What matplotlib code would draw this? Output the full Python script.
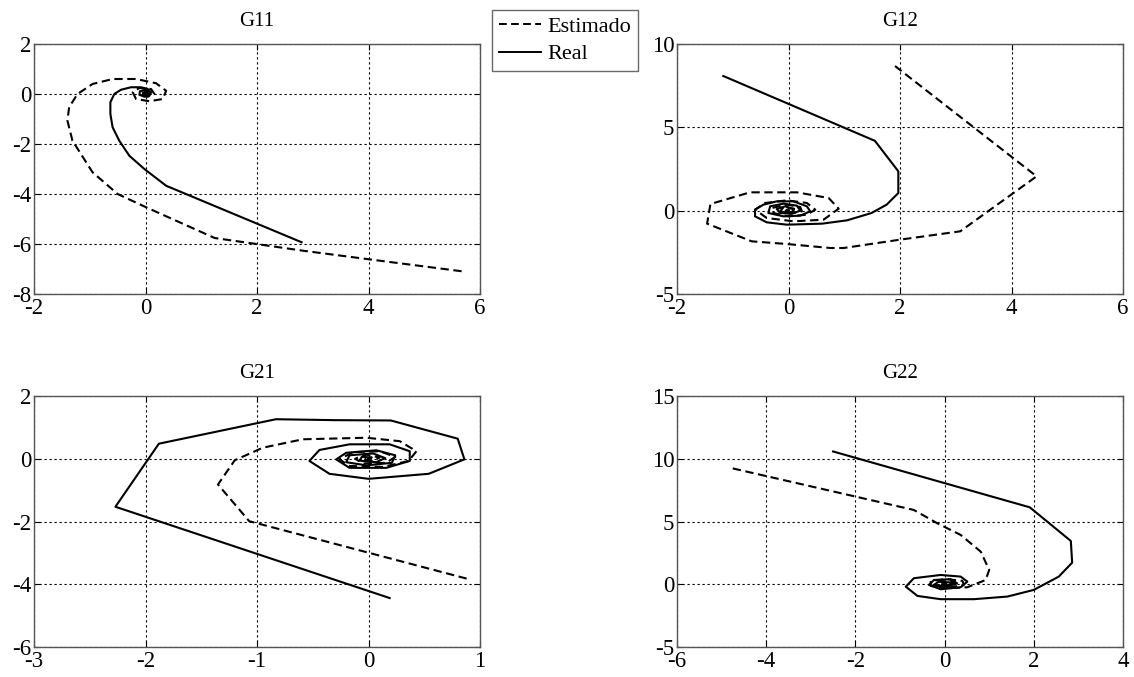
import numpy as np
import matplotlib
matplotlib.use("Agg")
import matplotlib.pyplot as plt
from matplotlib.lines import Line2D

# Nyquist curves (real part, imaginary part)
g11_real_x = [2.80, 0.37, -0.02, -0.29, -0.47, -0.59, -0.63, -0.63, -0.56, -0.44, -0.26, -0.08,
              0.04, 0.10, 0.07, -0.02, -0.11, -0.10, -0.02, 0.06, 0.05, -0.02, -0.05, 0.00, 0.02, 0.00]
g11_real_y = [-5.93, -3.67, -3.00, -2.47, -1.87, -1.33, -0.80, -0.33, 0.00, 0.17, 0.27, 0.27,
              0.20, 0.07, -0.07, -0.11, -0.03, 0.11, 0.16, 0.09, -0.01, -0.03, 0.05, 0.07, 0.01, 0.00]
g11_est_x = [5.67, 4.00, 2.83, 1.24, 0.01, -0.50, -0.95, -1.31, -1.40, -1.37, -1.22, -0.95, -0.59,
             -0.17, 0.19, 0.37, 0.31, 0.07, -0.17, -0.23, -0.11, 0.10, 0.16, 0.04, -0.08, -0.02, 0.03, 0.00]
g11_est_y = [-7.09, -6.61, -6.27, -5.76, -4.53, -4.00, -3.13, -1.87, -1.07, -0.53, 0.00, 0.40, 0.60,
             0.60, 0.43, 0.13, -0.20, -0.29, -0.20, 0.07, 0.24, 0.20, 0.00, -0.11, 0.00, 0.11, 0.05, 0.02]

g12_real_x = [-1.17, 1.55, 1.97, 1.97, 1.76, 1.49, 1.05, 0.60, -0.03, -0.39, -0.60, -0.60, -0.45,
              -0.21, 0.09, 0.33, 0.39, 0.21, -0.09, -0.36, -0.33, -0.09, 0.15, 0.21, 0.06, -0.15,
              -0.21, -0.06, 0.09, 0.06, -0.06, -0.03, 0.01]
g12_real_y = [8.08, 4.19, 2.36, 1.06, 0.36, -0.14, -0.58, -0.78, -0.84, -0.70, -0.34, 0.06, 0.36,
              0.56, 0.56, 0.26, -0.04, -0.30, -0.34, -0.14, 0.26, 0.42, 0.30, 0.00, -0.18, -0.14,
              0.10, 0.26, 0.10, -0.10, -0.06, 0.06, 0.02]
g12_est_x = [1.91, 4.45, 3.08, 2.00, 0.99, 0.75, -0.03, -0.66, -1.46, -1.40, -0.69, 0.15, 0.72,
             0.90, 0.63, 0.09, -0.39, -0.60, -0.42, -0.03, 0.33, 0.48, 0.33, 0.00, -0.27, -0.30,
             -0.03, 0.21, 0.24, 0.03, -0.15, -0.09, 0.10, 0.09, -0.03, 0.00]
g12_est_y = [8.68, 2.06, -1.24, -1.74, -2.24, -2.24, -2.00, -1.84, -0.78, 0.40, 1.10, 1.10, 0.76,
             0.12, -0.54, -0.64, -0.44, 0.06, 0.46, 0.62, 0.46, 0.06, -0.24, -0.34, -0.14, 0.16,
             0.36, 0.22, -0.04, -0.18, -0.04, 0.20, 0.12, -0.10, -0.06, 0.04]

g21_real_x = [0.19, -2.27, -1.88, -0.83, -0.30, 0.20, 0.80, 0.86, 0.54, 0.00, -0.35, -0.53, -0.44,
              -0.17, 0.19, 0.37, 0.37, 0.16, -0.17, -0.29, -0.20, 0.07, 0.24, 0.21, -0.02, -0.20,
              -0.17, 0.04, 0.15, 0.07, -0.08, -0.06, 0.03, 0.00]
g21_real_y = [-4.44, -1.53, 0.48, 1.26, 1.23, 1.22, 0.64, -0.02, -0.48, -0.64, -0.48, -0.07, 0.28,
              0.46, 0.46, 0.24, -0.07, -0.29, -0.29, -0.02, 0.19, 0.27, 0.11, -0.13, -0.21, -0.11,
              0.11, 0.17, 0.02, -0.11, -0.06, 0.06, 0.04, 0.00]
g21_est_x = [0.88, -1.07, -1.35, -1.20, -0.95, -0.59, -0.02, 0.28, 0.43, 0.36, 0.13, -0.17, -0.26,
             -0.14, 0.10, 0.24, 0.16, -0.05, -0.12, -0.02, 0.10, 0.04, -0.03, 0.00]
g21_est_y = [-3.82, -1.99, -0.82, -0.05, 0.35, 0.62, 0.67, 0.56, 0.24, -0.07, -0.26, -0.23, -0.02,
             0.21, 0.24, 0.06, -0.13, -0.15, 0.00, 0.13, 0.04, -0.07, -0.02, 0.02]

g22_real_x = [-2.50, 1.91, 2.83, 2.86, 2.56, 2.00, 1.41, 0.66, -0.09, -0.61, -0.87, -0.69, -0.09,
              0.36, 0.51, 0.36, -0.09, -0.35, -0.24, 0.13, 0.28, 0.06, -0.24, -0.13, 0.17, 0.10,
              -0.05, 0.00]
g22_real_y = [10.58, 6.13, 3.45, 1.72, 0.61, -0.45, -0.98, -1.19, -1.19, -0.93, -0.19, 0.48, 0.74,
              0.61, 0.21, -0.24, -0.40, -0.05, 0.34, 0.40, 0.08, -0.19, -0.05, 0.21, 0.13, -0.08,
              -0.03, 0.05]
g22_est_x = [-4.75, -0.69, -0.16, 0.36, 0.81, 1.00, 0.92, 0.51, 0.06, -0.31, -0.31, 0.06, 0.40,
             0.43, 0.13, -0.20, -0.16, 0.13, 0.25, 0.02, -0.09, 0.02, 0.04]
g22_est_y = [9.23, 5.92, 4.85, 3.93, 2.60, 1.14, 0.34, -0.24, -0.32, -0.13, 0.29, 0.40, 0.27,
             -0.05, -0.24, -0.11, 0.21, 0.24, 0.03, -0.11, 0.05, 0.13, 0.00]

titles = ["G11", "G12", "G21", "G22"]
xlims = [(-2, 6), (-2, 6), (-3, 1), (-6, 4)]
ylims = [(-8, 2), (-5, 10), (-6, 2), (-5, 15)]
xticks = [[-2, 0, 2, 4, 6], [-2, 0, 2, 4, 6], [-3, -2, -1, 0, 1], [-6, -4, -2, 0, 2, 4]]
yticks = [[-8, -6, -4, -2, 0, 2], [-5, 0, 5, 10], [-6, -4, -2, 0, 2], [-5, 0, 5, 10, 15]]

curves = [
    (g11_est_x, g11_est_y, g11_real_x, g11_real_y),
    (g12_est_x, g12_est_y, g12_real_x, g12_real_y),
    (g21_est_x, g21_est_y, g21_real_x, g21_real_y),
    (g22_est_x, g22_est_y, g22_real_x, g22_real_y),
]

plt.rcParams["font.family"] = ["Liberation Serif", "DejaVu Serif"]
plt.rcParams["axes.unicode_minus"] = False

W, H = 1134, 677
fig = plt.figure(figsize=(W / 100, H / 100), dpi=100)

# axes boxes in pixels: left, top, right, bottom
boxes = [(34, 44, 480, 294), (677, 44, 1123, 294), (34, 396, 480, 647), (677, 396, 1123, 647)]

DASH = (0, (4, 2.2))
for i, (l, t, r, b) in enumerate(boxes):
    ax = fig.add_axes([l / W, 1 - b / H, (r - l) / W, (b - t) / H])
    ex, ey, rx, ry = curves[i]
    ax.plot(ex, ey, color="black", lw=1.5, linestyle=DASH)
    ax.plot(rx, ry, color="black", lw=1.5)
    ax.set_xlim(*xlims[i])
    ax.set_ylim(*ylims[i])
    ax.set_xticks(xticks[i])
    ax.set_yticks(yticks[i])
    ax.grid(True, color="black", linestyle=(0, (2, 2.5)), lw=0.8)
    ax.tick_params(direction="in", length=4, top=True, right=True, labelsize=16.5)
    ax.tick_params(axis="x", pad=3)
    ax.tick_params(axis="y", pad=2)
    for s in ax.spines.values():
        s.set_color("#555555")
        s.set_linewidth(1.0)
    ax.set_title(titles[i], fontsize=15, pad=13)

handles = [Line2D([], [], color="black", lw=1.4, linestyle=DASH),
           Line2D([], [], color="black", lw=1.4)]
leg = fig.legend(handles, ["Estimado", "Real"], loc="upper left",
                 bbox_to_anchor=(492 / W, 1 - 10 / H), fontsize=16, frameon=True,
                 fancybox=False, edgecolor="#444444", handlelength=1.9,
                 handletextpad=0.3, borderpad=0.3, labelspacing=0.3, borderaxespad=0)
leg.get_frame().set_linewidth(1.0)

fig.savefig("out.png", dpi=100)
